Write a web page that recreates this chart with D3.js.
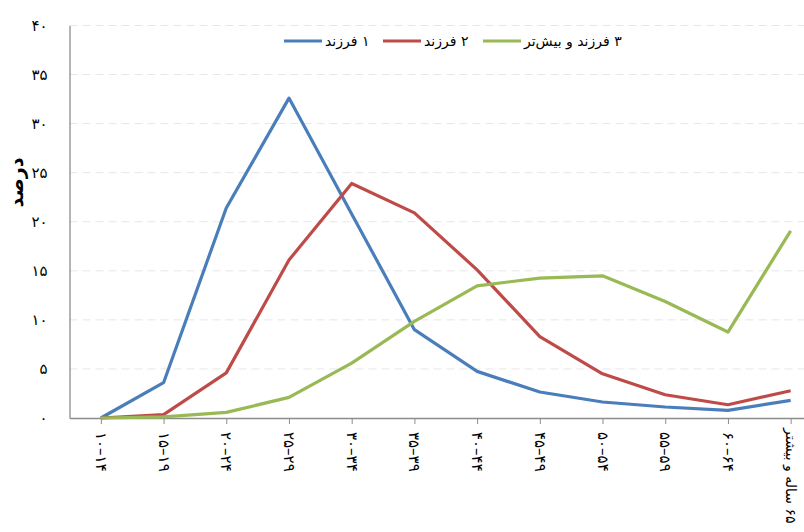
<!DOCTYPE html>
<html>
<head>
<meta charset="utf-8">
<script src="https://cdn.jsdelivr.net/npm/d3@7"></script>
<style>
  body { margin: 0; background: #fff; }
  text { font-family: "DejaVu Sans", sans-serif; }
</style>
</head>
<body>
<div id="chart"></div>
<script>
// age groups of mother (x axis)
const categories = ["۱۰–۱۴", "۱۵–۱۹", "۲۰–۲۴", "۲۵–۲۹", "۳۰–۳۴", "۳۵–۳۹",
  "۴۰–۴۴", "۴۵–۴۹", "۵۰–۵۴", "۵۵–۵۹", "۶۰–۶۴", "۶۵ ساله و بیشتر"];

const seriesNames = ["۱ فرزند", "۲ فرزند", "۳ فرزند و بیش‌تر"];
const seriesColors = ["#4a7ebb", "#be4b48", "#98b954"];

const oneChild = [0, 3.6, 21.4, 32.6, 20.8, 9.0, 4.75, 2.65, 1.63, 1.12, 0.78, 1.8];
const twoChildren = [0, 0.34, 4.6, 16.1, 23.9, 20.9, 15.1, 8.3, 4.5, 2.37, 1.35, 2.78];
const threePlus = [0, 0.12, 0.57, 2.1, 5.6, 9.85, 13.47, 14.26, 14.49, 11.87, 8.76, 19.07];

const yTicks = [0, 5, 10, 15, 20, 25, 30, 35, 40];
const yLabel = "درصد";

const toFa = (n) => String(n).replace(/\d/g, (d) => "۰۱۲۳۴۵۶۷۸۹"[d]);

const width = 804;
const height = 532;
const margin = { top: 25.5, left: 69.5, bottom: 114 };
const plotRight = 822; // plot area runs past the window edge, as in the source

const series = [oneChild, twoChildren, threePlus];

const svg = d3.select("#chart")
  .append("svg")
  .attr("width", width)
  .attr("height", height);

const x = d3.scalePoint()
  .domain(categories)
  .range([margin.left, plotRight])
  .padding(0.5);

const y = d3.scaleLinear()
  .domain([0, 40])
  .range([height - margin.bottom, margin.top]);

// gridlines
svg.append("g")
  .selectAll("line")
  .data(yTicks.filter((d) => d > 0))
  .join("line")
  .attr("x1", margin.left)
  .attr("x2", plotRight)
  .attr("y1", (d) => y(d))
  .attr("y2", (d) => y(d))
  .attr("stroke", "#e6e6e6")
  .attr("stroke-dasharray", "8,5");

// y axis
const yAxis = svg.append("g")
  .attr("transform", `translate(${margin.left},0)`)
  .call(d3.axisLeft(y).tickValues(yTicks).tickSize(0).tickPadding(22).tickFormat(toFa));
yAxis.select(".domain").attr("stroke", "#8c8c8c").attr("stroke-width", 1.3);
yAxis.selectAll("text")
  .attr("font-size", 15)
  .attr("fill", "#000")
  .attr("font-family", "DejaVu Sans, sans-serif");

// x axis
const xAxis = svg.append("g")
  .attr("transform", `translate(0,${y(0)})`)
  .call(d3.axisBottom(x).tickSize(6).tickSizeOuter(0).tickFormat(""));
xAxis.select(".domain").attr("stroke", "#8c8c8c").attr("stroke-width", 1.3);
xAxis.selectAll(".tick line").attr("stroke", "#8c8c8c");

// rotated category labels, reading top to bottom
svg.append("g")
  .selectAll("text")
  .data(categories)
  .join("text")
  .attr("transform", (d, i) => `translate(${x(d)},${y(0) + (i === categories.length - 1 ? 10 : 14)}) rotate(90)`)
  .attr("dominant-baseline", "central")
  .attr("direction", (d, i) => (i === categories.length - 1 ? "rtl" : "ltr"))
  .attr("text-anchor", (d, i) => (i === categories.length - 1 ? "end" : "start"))
  .attr("font-size", (d, i) => (i === categories.length - 1 ? 14 : 15))
  .text((d) => d);

// y label
svg.append("text")
  .attr("transform", `translate(16,${y(24)}) rotate(-90)`)
  .attr("text-anchor", "middle")
  .attr("dominant-baseline", "central")
  .attr("font-size", 19)
  .attr("font-weight", "bold")
  .text(yLabel);

// lines
const line = d3.line()
  .x((d, i) => x(categories[i]))
  .y((d) => y(d));

svg.append("g")
  .selectAll("path")
  .data(series)
  .join("path")
  .attr("d", line)
  .attr("fill", "none")
  .attr("stroke", (d, i) => seriesColors[i])
  .attr("stroke-width", 3.2)
  .attr("stroke-linejoin", "round");

// legend: swatch, then right-to-left text after it
const legendX = [284, 383, 483];
const legend = svg.append("g")
  .selectAll("g")
  .data(seriesNames)
  .join("g")
  .attr("transform", (d, i) => `translate(${legendX[i]},41)`);

legend.append("line")
  .attr("x1", 0)
  .attr("x2", 38)
  .attr("stroke", (d, i) => seriesColors[i])
  .attr("stroke-width", 3.2);

legend.append("text")
  .attr("x", 41)
  .attr("direction", "rtl")
  .attr("text-anchor", "end")
  .attr("dominant-baseline", "central")
  .attr("font-size", 14)
  .text((d) => d);
</script>
</body>
</html>
